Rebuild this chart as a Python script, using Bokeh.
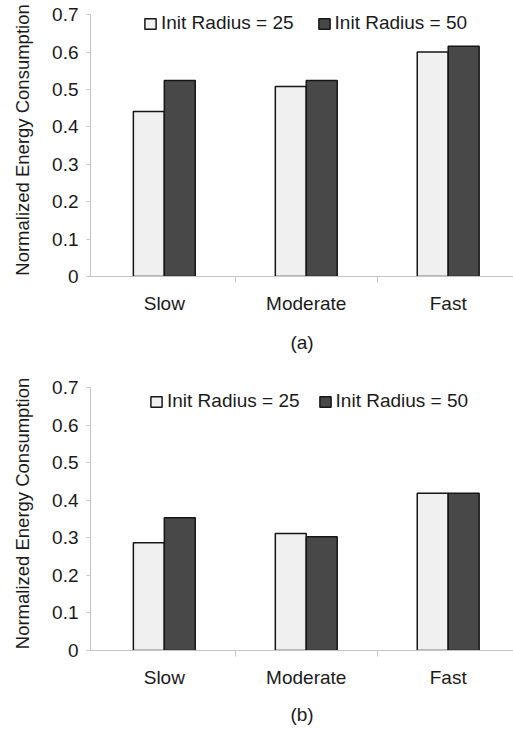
from bokeh.plotting import figure
from bokeh.models import FixedTicker, Range1d, Legend, LegendItem
from bokeh.layouts import column
from bokeh.embed import file_html
from bokeh.resources import INLINE

categories = ["Slow", "Moderate", "Fast"]
series_names = ["Init Radius = 25", "Init Radius = 50"]
a_radius25 = [0.441, 0.508, 0.600]
a_radius50 = [0.524, 0.524, 0.616]
b_radius25 = [0.287, 0.312, 0.419]
b_radius50 = [0.354, 0.303, 0.419]
y_ticks = [0.0, 0.1, 0.2, 0.3, 0.4, 0.5, 0.6, 0.7]
y_tick_labels = ["0", "0.1", "0.2", "0.3", "0.4", "0.5", "0.6", "0.7"]
panel_labels = ["(a)", "(b)"]

FONT = "Liberation Sans"
FS = "19px"
TXT = "#1a1a1a"
AX = "#c4c4c4"
LIGHT = "#f0f0f0"
DARK = "#484848"
EDGE = "#161616"


def make_fig(r25, r50, panel, height, b_top, b_bottom, leg_x, leg_y, leg_spacing, lab_stand):
    p = figure(width=513, height=height,
               x_range=Range1d(-0.02, 2.96), y_range=Range1d(0, 0.73),
               output_backend="svg", toolbar_location=None,
               min_border_left=90, min_border_right=0,
               min_border_top=b_top, min_border_bottom=b_bottom)
    p.outline_line_color = None
    p.xgrid.visible = False
    p.ygrid.visible = False
    p.background_fill_color = "white"
    p.border_fill_color = "white"

    centers = [i + 0.5 for i in range(len(categories))]
    off = 0.109
    w = 0.218
    r1 = p.vbar(x=[c - off for c in centers], top=r25, width=w,
                fill_color=LIGHT, line_color=EDGE, line_width=1.5)
    r2 = p.vbar(x=[c + off for c in centers], top=r50, width=w,
                fill_color=DARK, line_color=EDGE, line_width=1.5)

    xa = p.xaxis[0]
    xa.ticker = FixedTicker(ticks=centers, minor_ticks=[float(i) for i in range(1, len(categories))])
    xa.major_label_overrides = {c: n for c, n in zip(centers, categories)}
    xa.axis_line_color = AX
    xa.major_tick_line_color = None
    xa.major_tick_out = 0
    xa.major_tick_in = 0
    xa.minor_tick_line_color = AX
    xa.minor_tick_out = 6
    xa.minor_tick_in = 0
    xa.major_label_standoff = 10
    xa.major_label_text_font = FONT
    xa.major_label_text_font_size = FS
    xa.major_label_text_color = TXT
    xa.axis_label = panel
    xa.axis_label_text_font = FONT
    xa.axis_label_text_font_size = FS
    xa.axis_label_text_font_style = "normal"
    xa.axis_label_text_color = TXT
    xa.axis_label_standoff = lab_stand

    ya = p.yaxis[0]
    ya.ticker = FixedTicker(ticks=y_ticks)
    ya.bounds = (y_ticks[0], y_ticks[-1])
    ya.major_label_overrides = {t: l for t, l in zip(y_ticks, y_tick_labels)}
    ya.axis_line_color = AX
    ya.major_tick_line_color = AX
    ya.major_tick_out = 4
    ya.major_tick_in = 0
    ya.minor_tick_line_color = None
    ya.major_label_standoff = 8
    ya.major_label_text_font = FONT
    ya.major_label_text_font_size = FS
    ya.major_label_text_color = TXT
    ya.axis_label = "Normalized Energy Consumption"
    ya.axis_label_text_font = FONT
    ya.axis_label_text_font_size = "18.5px"
    ya.axis_label_text_font_style = "normal"
    ya.axis_label_text_color = TXT
    ya.axis_label_standoff = 16

    legend = Legend(items=[LegendItem(label=series_names[0], renderers=[r1]),
                           LegendItem(label=series_names[1], renderers=[r2])],
                    orientation="horizontal", location=(leg_x, leg_y),
                    border_line_color=None, background_fill_alpha=0,
                    padding=0, margin=0, spacing=leg_spacing,
                    glyph_width=14, glyph_height=13, label_standoff=4,
                    label_height=13,
                    label_text_font=FONT, label_text_font_size=FS,
                    label_text_color=TXT)
    p.add_layout(legend)
    return p


p1 = make_fig(a_radius25, a_radius50, panel_labels[0], 360, 3, 84, 53, 242, 23, 15)
p2 = make_fig(b_radius25, b_radius50, panel_labels[1], 369, 16, 79, 59, 238, 18, 13)

page = column(p1, p2, spacing=0)
open("out.html", "w").write(file_html(page, INLINE))
